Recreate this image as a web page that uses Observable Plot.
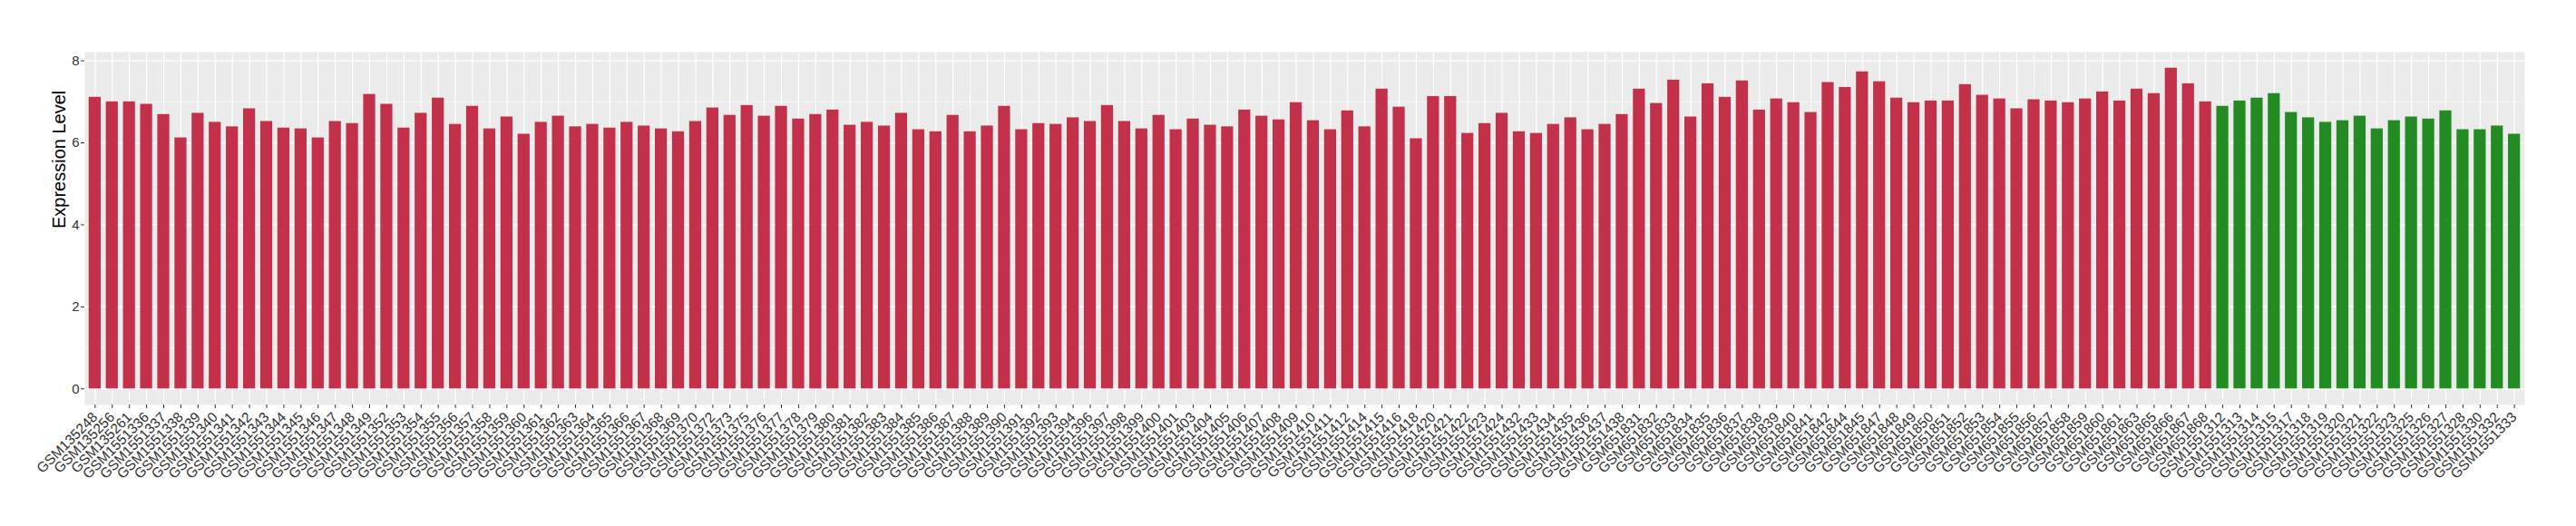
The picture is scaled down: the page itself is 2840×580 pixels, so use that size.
<!DOCTYPE html>
<html><head><meta charset="utf-8">
<script src="https://cdn.jsdelivr.net/npm/d3@7"></script>
<script src="https://cdn.jsdelivr.net/npm/@observablehq/plot@0.6"></script>
<style>
body{margin:0;background:#fff;}
svg{font-family:"Liberation Sans",Arial,Helvetica,sans-serif;}
</style>
</head><body><div id="chart"></div>
<script>
const redSamples = ["GSM135248","GSM135256","GSM135261","GSM1551336","GSM1551337","GSM1551338","GSM1551339","GSM1551340","GSM1551341","GSM1551342","GSM1551343","GSM1551344","GSM1551345","GSM1551346","GSM1551347","GSM1551348","GSM1551349","GSM1551352","GSM1551353","GSM1551354","GSM1551355","GSM1551356","GSM1551357","GSM1551358","GSM1551359","GSM1551360","GSM1551361","GSM1551362","GSM1551363","GSM1551364","GSM1551365","GSM1551366","GSM1551367","GSM1551368","GSM1551369","GSM1551370","GSM1551372","GSM1551373","GSM1551375","GSM1551376","GSM1551377","GSM1551378","GSM1551379","GSM1551380","GSM1551381","GSM1551382","GSM1551383","GSM1551384","GSM1551385","GSM1551386","GSM1551387","GSM1551388","GSM1551389","GSM1551390","GSM1551391","GSM1551392","GSM1551393","GSM1551394","GSM1551396","GSM1551397","GSM1551398","GSM1551399","GSM1551400","GSM1551401","GSM1551403","GSM1551404","GSM1551405","GSM1551406","GSM1551407","GSM1551408","GSM1551409","GSM1551410","GSM1551411","GSM1551412","GSM1551414","GSM1551415","GSM1551416","GSM1551418","GSM1551420","GSM1551421","GSM1551422","GSM1551423","GSM1551424","GSM1551432","GSM1551433","GSM1551434","GSM1551435","GSM1551436","GSM1551437","GSM1551438","GSM651831","GSM651832","GSM651833","GSM651834","GSM651835","GSM651836","GSM651837","GSM651838","GSM651839","GSM651840","GSM651841","GSM651842","GSM651844","GSM651845","GSM651847","GSM651848","GSM651849","GSM651850","GSM651851","GSM651852","GSM651853","GSM651854","GSM651855","GSM651856","GSM651857","GSM651858","GSM651859","GSM651860","GSM651861","GSM651863","GSM651865","GSM651866","GSM651867","GSM651868"];
const redValues = [7.11,7.00,7.00,6.94,6.69,6.12,6.72,6.50,6.39,6.83,6.52,6.36,6.34,6.12,6.52,6.47,7.18,6.94,6.36,6.72,7.09,6.45,6.89,6.34,6.63,6.21,6.50,6.65,6.39,6.45,6.36,6.50,6.41,6.34,6.27,6.52,6.85,6.67,6.91,6.65,6.89,6.58,6.69,6.80,6.43,6.50,6.41,6.72,6.32,6.27,6.67,6.27,6.41,6.89,6.32,6.47,6.45,6.61,6.52,6.91,6.52,6.34,6.67,6.32,6.58,6.43,6.39,6.80,6.65,6.56,6.98,6.54,6.32,6.78,6.39,7.31,6.87,6.10,7.13,7.13,6.23,6.47,6.72,6.27,6.23,6.45,6.61,6.32,6.45,6.69,7.31,6.96,7.53,6.63,7.44,7.11,7.51,6.80,7.07,6.98,6.74,7.47,7.35,7.73,7.49,7.09,6.98,7.02,7.02,7.42,7.16,7.07,6.83,7.05,7.02,6.98,7.07,7.24,7.02,7.31,7.20,7.82,7.44,7.00];
const greenSamples = ["GSM1551312","GSM1551313","GSM1551314","GSM1551315","GSM1551317","GSM1551318","GSM1551319","GSM1551320","GSM1551321","GSM1551322","GSM1551323","GSM1551325","GSM1551326","GSM1551327","GSM1551328","GSM1551330","GSM1551332","GSM1551333"];
const greenValues = [6.89,7.02,7.09,7.20,6.74,6.61,6.50,6.54,6.65,6.34,6.54,6.63,6.58,6.78,6.32,6.32,6.41,6.21];
const redColor = "#C3304A";
const greenColor = "#228B22";
const yTicks = [0, 2, 4, 6, 8];
const yMinorTicks = [1, 3, 5, 7];
const yLabel = "Expression Level";

const redData = redSamples.map((s, i) => ({sample: s, value: redValues[i]}));
const greenData = greenSamples.map((s, i) => ({sample: s, value: greenValues[i]}));
const allSamples = redSamples.concat(greenSamples);
const maxV = d3.max(redValues.concat(greenValues));
const pad = maxV * 0.05;

const chart = Plot.plot({
  width: 2840,
  height: 580,
  marginLeft: 93,
  marginRight: 57,
  marginTop: 57,
  marginBottom: 134,
  style: {fontFamily: "Liberation Sans, Arial, Helvetica, sans-serif", fontSize: "15px", background: "white", overflow: "visible"},
  x: {domain: allSamples, paddingInner: 0.3, paddingOuter: 0.25},
  y: {domain: [-pad, maxV + pad]},
  marks: [
    Plot.frame({fill: "#EBEBEB", stroke: "none"}),
    Plot.ruleY(yMinorTicks, {stroke: "white", strokeWidth: 0.6}),
    Plot.ruleY(yTicks, {stroke: "white", strokeWidth: 1.2}),
    Plot.gridX({stroke: "white", strokeOpacity: 1, strokeWidth: 1.2}),
    Plot.barY(redData, {x: "sample", y: "value", fill: redColor}),
    Plot.barY(greenData, {x: "sample", y: "value", fill: greenColor}),
    Plot.axisY({ticks: yTicks, tickSize: 4, tickPadding: 2, label: null, fontSize: 15, color: "#333"}),
    Plot.axisX({tickRotate: -45, tickSize: 4, tickPadding: 7, label: null, fontSize: 15.5, color: "#333"}),
    Plot.text([yLabel], {text: d => d, frameAnchor: "left", rotate: -90, dx: -28, fontSize: 20, fill: "black"})
  ]
});
document.getElementById("chart").appendChild(chart);
</script>
</body></html>
